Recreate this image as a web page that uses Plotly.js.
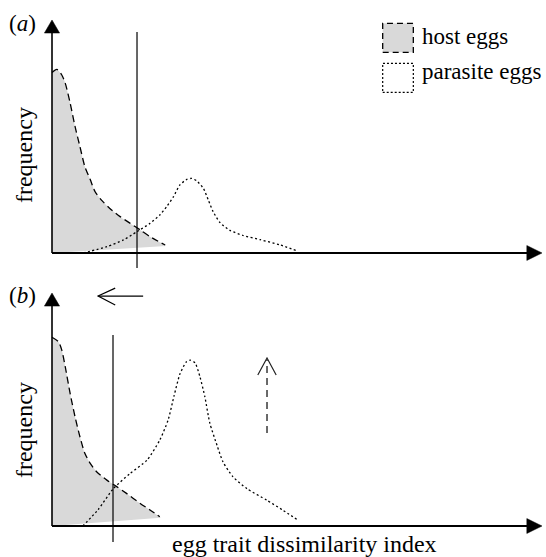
<!DOCTYPE html>
<html>
<head>
<meta charset="utf-8">
<script src="https://cdn.plot.ly/plotly-3.0.1.min.js"></script>
<style>html,body{margin:0;padding:0;background:#fff;}#chart{width:546px;height:557px;}</style>
</head>
<body>
<div id="chart"></div>
<script>
// ---- data (schematic frequency distributions) ----
const seriesNames = ['host eggs', 'parasite eggs'];
const panelLabels = ['a', 'b'];
const xTitle = 'egg trait dissimilarity index';
const yTitle = 'frequency';

// panel (a)
const hostAx = [0, 0.1, 0.2, 0.27, 0.37, 0.47, 0.57, 0.67, 0.78, 0.88, 1.01, 1.18, 1.39, 1.59, 1.8, 2.0, 2.31];
const hostAy = [0.775, 0.788, 0.764, 0.729, 0.644, 0.543, 0.457, 0.371, 0.315, 0.263, 0.227, 0.191, 0.156, 0.128, 0.099, 0.070, 0.034];
const hostAbaseX = [0, 2.33];
const hostAbaseY = [0, 0.03];
const paraAx = [0.64, 1.12, 1.46, 1.73, 2.0, 2.2, 2.34, 2.48, 2.61, 2.75, 2.85, 2.95, 3.09, 3.19, 3.29, 3.43, 3.63, 3.9, 4.25, 4.65, 4.99];
const paraAy = [0, 0.027, 0.056, 0.091, 0.127, 0.163, 0.199, 0.242, 0.292, 0.316, 0.320, 0.310, 0.277, 0.227, 0.177, 0.130, 0.097, 0.075, 0.057, 0.035, 0.010];

// panel (b)
const hostBx = [0, 0.13, 0.2, 0.27, 0.37, 0.47, 0.57, 0.67, 0.78, 0.91, 1.12, 1.32, 1.52, 1.8, 2.0, 2.2];
const hostBy = [0.81, 0.791, 0.755, 0.684, 0.569, 0.469, 0.383, 0.312, 0.269, 0.233, 0.197, 0.169, 0.140, 0.097, 0.069, 0.040];
const hostBbaseX = [0, 2.22];
const hostBbaseY = [0, 0.035];
const paraBx = [0.63, 0.94, 1.25, 1.59, 1.94, 2.2, 2.37, 2.49, 2.61, 2.74, 2.82, 2.92, 3.02, 3.12, 3.22, 3.37, 3.49, 3.69, 3.98, 4.39, 4.71, 5.0];
const paraBy = [0, 0.07, 0.16, 0.225, 0.283, 0.369, 0.455, 0.558, 0.652, 0.704, 0.712, 0.700, 0.640, 0.554, 0.442, 0.345, 0.275, 0.212, 0.160, 0.110, 0.068, 0.028];

// acceptance thresholds (vertical lines) and their extents
const thresholdX = [1.735, 1.245];
const thresholdTop = [0.948, 0.82];
const thresholdBottom = [-0.064, -0.069];

// ---- styles ----
const FONT = 'Liberation Serif, Times New Roman, serif';
const GREY = '#d9d9d9';
const HOST_DASH = '7px,4px';
const PARA_DASH = '2px,2.5px';

function panelTraces(xa, ya, hx, hy, bx, by, px, py) {
  return [
    {x: bx, y: by, xaxis: xa, yaxis: ya, mode: 'lines', line: {width: 0, color: 'rgba(0,0,0,0)'}, hoverinfo: 'skip', showlegend: false},
    {x: hx, y: hy, xaxis: xa, yaxis: ya, mode: 'lines', name: seriesNames[0], fill: 'tonexty', fillcolor: GREY,
     line: {color: '#000', width: 1.3, dash: HOST_DASH, shape: 'spline', smoothing: 0.7}, showlegend: false},
    {x: px, y: py, xaxis: xa, yaxis: ya, mode: 'lines', name: seriesNames[1],
     line: {color: '#000', width: 1.3, dash: PARA_DASH, shape: 'spline', smoothing: 0.6}, showlegend: false}
  ];
}

const data = [].concat(
  panelTraces('x', 'y', hostAx, hostAy, hostAbaseX, hostAbaseY, paraAx, paraAy),
  panelTraces('x2', 'y2', hostBx, hostBy, hostBbaseX, hostBbaseY, paraBx, paraBy)
);

const shapes = [];
const axPairs = [['x', 'y'], ['x2', 'y2']];
axPairs.forEach(function (p, i) {
  const xr = p[0], yr = p[1];
  // x axis with arrow
  shapes.push({type: 'line', xref: xr, yref: yr, x0: 0, y0: 0, x1: 9.72, y1: 0, line: {color: '#000', width: 1.8}});
  shapes.push({type: 'path', xref: xr, yref: yr, path: 'M 9.69,-0.032 L 10,0 L 9.69,0.032 Z', fillcolor: '#000', line: {color: '#000', width: 0.5}});
  // y axis with arrow
  shapes.push({type: 'line', xref: xr, yref: yr, x0: 0, y0: 0, x1: 0, y1: 0.95, line: {color: '#000', width: 1.6}});
  shapes.push({type: 'path', xref: xr, yref: yr, path: 'M -0.155,0.944 L 0,1.0 L 0.155,0.944 Z', fillcolor: '#000', line: {color: '#000', width: 0.5}});
  // threshold line
  shapes.push({type: 'line', xref: xr, yref: yr, x0: thresholdX[i], x1: thresholdX[i], y0: thresholdBottom[i], y1: thresholdTop[i], line: {color: '#000', width: 1.2}});
});
// panel (b): threshold shift arrow (left) and parasite frequency rise arrow (up, dashed)
shapes.push({type: 'line', xref: 'x2', yref: 'y2', x0: 0.95, y0: 0.987, x1: 1.86, y1: 0.987, line: {color: '#000', width: 1.2}});
shapes.push({type: 'path', xref: 'x2', yref: 'y2', path: 'M 1.29,1.021 L 0.94,0.987 L 1.29,0.949', line: {color: '#000', width: 1.2}});
shapes.push({type: 'line', xref: 'x2', yref: 'y2', x0: 4.388, y0: 0.399, x1: 4.388, y1: 0.715, line: {color: '#444', width: 1.6, dash: '7px,5px'}});
shapes.push({type: 'path', xref: 'x2', yref: 'y2', path: 'M 4.2,0.648 L 4.388,0.721 L 4.575,0.648', line: {color: '#222', width: 1.2}});
// legend boxes
shapes.push({type: 'rect', xref: 'paper', yref: 'paper', x0: 0.7009, x1: 0.757, y0: 0.9061, y1: 0.9582, fillcolor: GREY, line: {color: '#000', width: 1.3, dash: '6px,4px'}});
shapes.push({type: 'rect', xref: 'paper', yref: 'paper', x0: 0.7009, x1: 0.757, y0: 0.8343, y1: 0.8864, fillcolor: '#fff', line: {color: '#000', width: 1.2, dash: '2px,2px'}});

function ann(text, x, y, size, extra) {
  return Object.assign({text: text, x: x, y: y, xref: 'paper', yref: 'paper', showarrow: false,
    xanchor: 'center', yanchor: 'middle', font: {family: FONT, size: size, color: '#000'}}, extra || {});
}
const annotations = [
  ann('(<i>' + panelLabels[0] + '</i>)', 0.0421, 0.9587, 23),
  ann('(<i>' + panelLabels[1] + '</i>)', 0.0421, 0.4686, 23),
  ann(yTitle, 0.044, 0.7217, 24, {textangle: -90}),
  ann(yTitle, 0.044, 0.228, 24, {textangle: -90}),
  ann(xTitle, 0.5577, 0.0235, 24),
  ann(seriesNames[0], 0.7692, 0.9336, 23, {xanchor: 'left'}),
  ann(seriesNames[1], 0.7692, 0.8725, 23, {xanchor: 'left'})
];

const hidden = {visible: false, fixedrange: true};
const layout = {
  width: 546, height: 557,
  margin: {l: 0, r: 0, t: 0, b: 0},
  paper_bgcolor: '#fff', plot_bgcolor: 'rgba(0,0,0,0)',
  showlegend: false,
  xaxis: Object.assign({domain: [0.06832, 0.99716], range: [-0.3, 10.05], anchor: 'y'}, hidden),
  yaxis: Object.assign({domain: [0.5040, 0.99756], range: [-0.1, 1.08], anchor: 'x'}, hidden),
  xaxis2: Object.assign({domain: [0.06832, 0.99716], range: [-0.3, 10.05], anchor: 'y2'}, hidden),
  yaxis2: Object.assign({domain: [0.01382, 0.50736], range: [-0.1, 1.08], anchor: 'x2'}, hidden),
  shapes: shapes,
  annotations: annotations,
  font: {family: FONT}
};

Plotly.newPlot('chart', data, layout, {staticPlot: true, displayModeBar: false});
</script>
</body>
</html>
